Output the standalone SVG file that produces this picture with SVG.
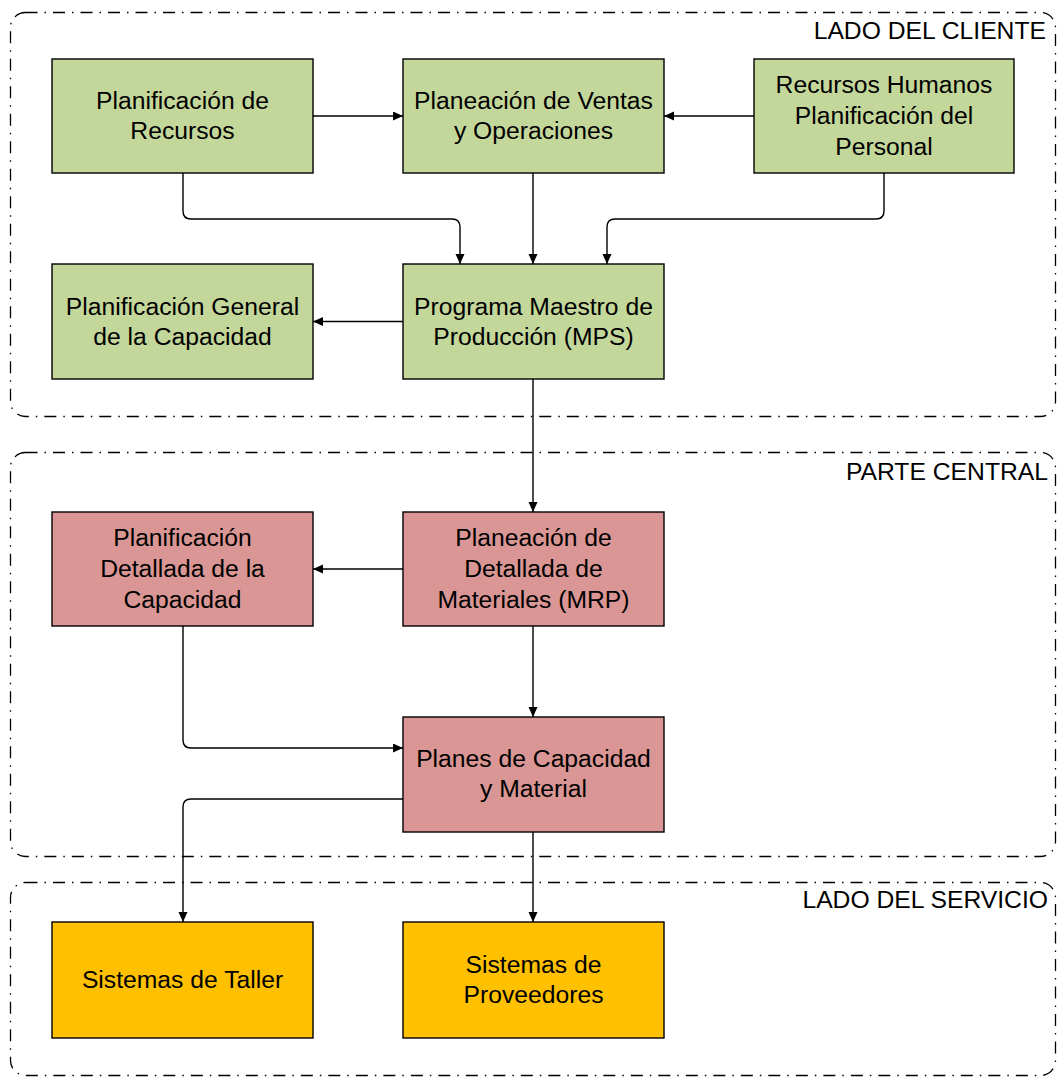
<svg xmlns="http://www.w3.org/2000/svg" width="1059" height="1077" viewBox="0 0 1059 1077">
  <style>
    .zone { fill: none; stroke: #000; stroke-width: 1.3; stroke-dasharray: 12 7 1.5 7; }
    .zone-label { font-family: "Liberation Sans", Arial, sans-serif; font-size: 24.7px; fill: #000; text-anchor: end; }
    .box { stroke: #000; stroke-width: 1.4; }
    .green { fill: #C4D79B; }
    .pink { fill: #D99694; }
    .amber { fill: #FFC000; }
    .label { font-family: "Liberation Sans", Arial, sans-serif; font-size: 24.7px; fill: #000; text-anchor: middle; }
    .edge { fill: none; stroke: #000; stroke-width: 1.4; marker-end: url(#arrow); }
  </style>
  <defs>
    <marker id="arrow" markerUnits="userSpaceOnUse" markerWidth="11" markerHeight="10" refX="10" refY="4.5" orient="auto">
      <path d="M0,0 L10,4.5 L0,9 Z" fill="#000"/>
    </marker>
  </defs>
  <rect width="1059" height="1077" fill="#fff"/>

  <!-- swimlane zones -->
  <g id="zones">
    <g id="zone-cliente">
      <rect class="zone" x="10.5" y="12.5" width="1045" height="404" rx="15"/>
      <text class="zone-label" x="1046" y="39">LADO DEL CLIENTE</text>
    </g>
    <g id="zone-central">
      <rect class="zone" x="10.5" y="452.5" width="1045" height="404" rx="15"/>
      <text class="zone-label" x="1048" y="480">PARTE CENTRAL</text>
    </g>
    <g id="zone-servicio">
      <rect class="zone" x="10.5" y="882.5" width="1045" height="193" rx="15"/>
      <text class="zone-label" x="1048" y="908">LADO DEL SERVICIO</text>
    </g>
  </g>

  <!-- connectors -->
  <g id="connectors">
    <path class="edge" d="M313,116 H403"/>
    <path class="edge" d="M754,116 H664"/>
    <path class="edge" d="M183,173 V211 Q183,219 191,219 H452 Q460,219 460,227 V264"/>
    <path class="edge" d="M533,173 V264"/>
    <path class="edge" d="M884,173 V211 Q884,219 876,219 H615 Q607,219 607,227 V264"/>
    <path class="edge" d="M403,321.5 H313"/>
    <path class="edge" d="M533,379 V512"/>
    <path class="edge" d="M403,569 H313"/>
    <path class="edge" d="M533,626 V717"/>
    <path class="edge" d="M183,626 V740 Q183,748 191,748 H403"/>
    <path class="edge" d="M403,799 H191 Q183,799 183,807 V922"/>
    <path class="edge" d="M533,832 V922"/>
  </g>

  <!-- nodes -->
  <g id="planificacion-recursos">
    <rect class="box green" x="52" y="59" width="261" height="114"/>
    <text class="label" x="182.5" y="109">Planificación de</text>
    <text class="label" x="182.5" y="139">Recursos</text>
  </g>
  <g id="planeacion-ventas">
    <rect class="box green" x="403" y="59" width="261" height="114"/>
    <text class="label" x="533.5" y="109">Planeación de Ventas</text>
    <text class="label" x="533.5" y="139">y Operaciones</text>
  </g>
  <g id="recursos-humanos">
    <rect class="box green" x="754" y="59" width="260" height="114"/>
    <text class="label" x="884" y="93">Recursos Humanos</text>
    <text class="label" x="884" y="124">Planificación del</text>
    <text class="label" x="884" y="155">Personal</text>
  </g>
  <g id="planificacion-general">
    <rect class="box green" x="52" y="264" width="261" height="115"/>
    <text class="label" x="182.5" y="315">Planificación General</text>
    <text class="label" x="182.5" y="345">de la Capacidad</text>
  </g>
  <g id="programa-maestro">
    <rect class="box green" x="403" y="264" width="261" height="115"/>
    <text class="label" x="533.5" y="315">Programa Maestro de</text>
    <text class="label" x="533.5" y="345">Producción (MPS)</text>
  </g>
  <g id="planificacion-detallada">
    <rect class="box pink" x="52" y="512" width="261" height="114"/>
    <text class="label" x="182.5" y="546">Planificación</text>
    <text class="label" x="182.5" y="577">Detallada de la</text>
    <text class="label" x="182.5" y="608">Capacidad</text>
  </g>
  <g id="planeacion-materiales">
    <rect class="box pink" x="403" y="512" width="261" height="114"/>
    <text class="label" x="533.5" y="546">Planeación de</text>
    <text class="label" x="533.5" y="577">Detallada de</text>
    <text class="label" x="533.5" y="608">Materiales (MRP)</text>
  </g>
  <g id="planes-capacidad">
    <rect class="box pink" x="403" y="717" width="261" height="115"/>
    <text class="label" x="533.5" y="767">Planes de Capacidad</text>
    <text class="label" x="533.5" y="797">y Material</text>
  </g>
  <g id="sistemas-taller">
    <rect class="box amber" x="52" y="922" width="261" height="116"/>
    <text class="label" x="182.5" y="988">Sistemas de Taller</text>
  </g>
  <g id="sistemas-proveedores">
    <rect class="box amber" x="403" y="922" width="261" height="116"/>
    <text class="label" x="533.5" y="973">Sistemas de</text>
    <text class="label" x="533.5" y="1003">Proveedores</text>
  </g>
</svg>
